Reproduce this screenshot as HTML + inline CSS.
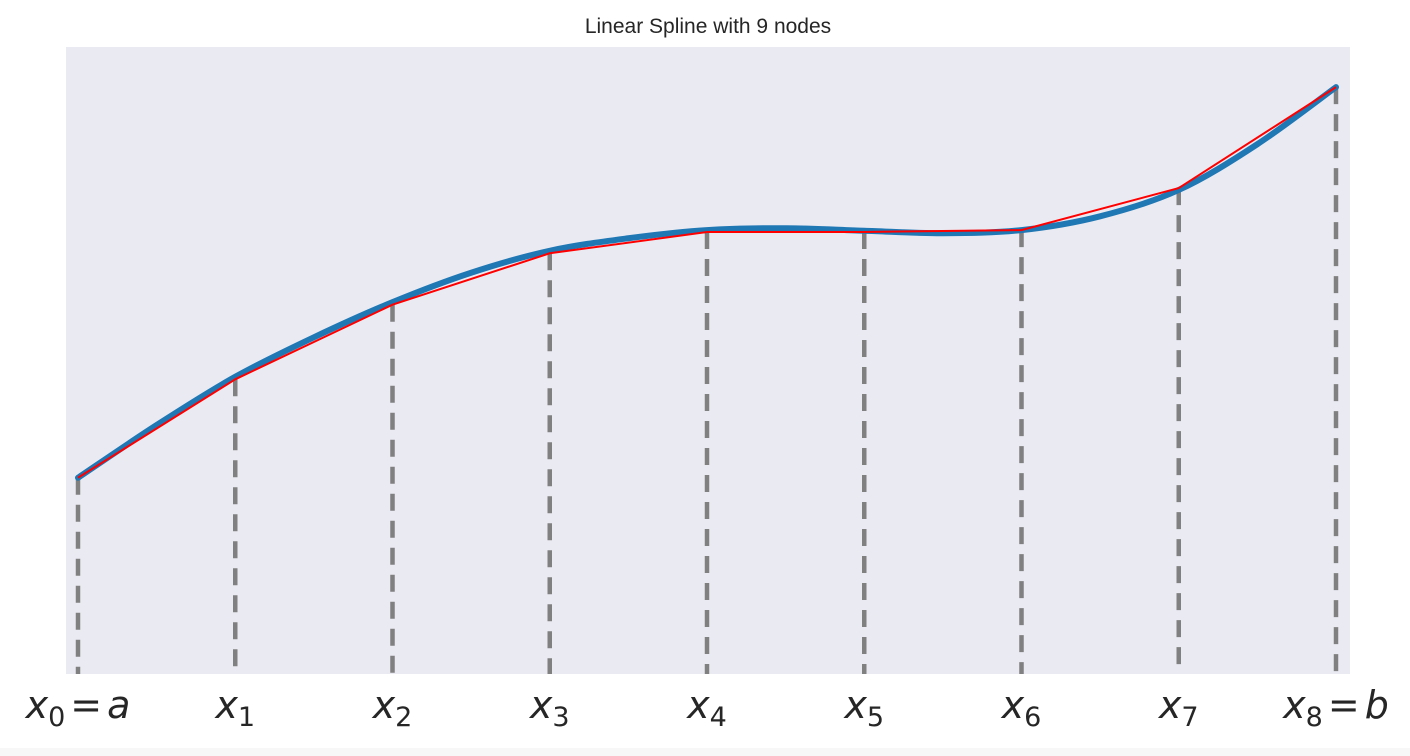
<!DOCTYPE html>
<html><head><meta charset="utf-8"><style>
html,body{margin:0;padding:0;background:#fff;}
svg{display:block;}
</style></head><body>
<svg id="chart" width="1410" height="756" xmlns="http://www.w3.org/2000/svg">
<rect x="0" y="0" width="1410" height="748" fill="#fff"/>
<rect x="0" y="748" width="1410" height="8" fill="#f7f7f7"/>
<rect x="66" y="47" width="1284" height="627" fill="#eaeaf2"/>
<text x="708" y="33" text-anchor="middle" font-family="Liberation Sans, sans-serif" font-size="21" fill="#262626">Linear Spline with 9 nodes</text>
<g id="guides"></g><g id="curve"></g><g id="spline"></g><g id="labels"></g>
</svg>
<script>
const nodeIndex=[0,1,2,3,4,5,6,7,8];
const nodeValues=[3.13,4.70,5.89,6.71,7.05,7.05,7.08,7.75,9.36];
const curveT=[0,0.5,1,1.5,2,2.5,3,3.5,4,4.5,5,5.5,6,6.5,7,7.5,8];
const curveValues=[3.13,3.97,4.74,5.37,5.93,6.40,6.75,6.95,7.08,7.11,7.07,7.03,7.08,7.30,7.72,8.45,9.36];
const tickSubs=["0","1","2","3","4","5","6","7","8"];
const tickSuffix=["= a","","","","","","","","= b"];
const NS="http://www.w3.org/2000/svg";
const xs=t=>78+t*157.25;
const ys=v=>674-v*62.7;
const g=id=>document.getElementById(id);
nodeIndex.forEach((t,i)=>{
  const l=document.createElementNS(NS,'line');
  l.setAttribute('x1',xs(t));l.setAttribute('x2',xs(t));
  l.setAttribute('y1',ys(nodeValues[i]));l.setAttribute('y2',674);
  l.setAttribute('stroke','#808080');l.setAttribute('stroke-width','4.5');l.setAttribute('stroke-dasharray','17,10');
  
  
  g('guides').appendChild(l);
});
const P=curveT.map((t,i)=>[xs(t),ys(curveValues[i])]);
let d='M'+P[0][0]+','+P[0][1];
for(let i=0;i<P.length-1;i++){
  const p0=P[Math.max(0,i-1)],p1=P[i],p2=P[i+1],p3=P[Math.min(P.length-1,i+2)];
  d+=' C'+(p1[0]+(p2[0]-p0[0])/6)+','+(p1[1]+(p2[1]-p0[1])/6)+' '+(p2[0]-(p3[0]-p1[0])/6)+','+(p2[1]-(p3[1]-p1[1])/6)+' '+p2[0]+','+p2[1];
}
const c=document.createElementNS(NS,'path');
c.setAttribute('d',d);c.setAttribute('fill','none');c.setAttribute('stroke','#1f77b4');c.setAttribute('stroke-width','6');c.setAttribute('stroke-linecap','round');


g('curve').appendChild(c);
const s=document.createElementNS(NS,'polyline');
s.setAttribute('points',nodeIndex.map((t,i)=>xs(t)+','+ys(nodeValues[i])).join(' '));
s.setAttribute('fill','none');s.setAttribute('stroke','#ff0000');s.setAttribute('stroke-width','2');


g('spline').appendChild(s);
nodeIndex.forEach((t,i)=>{
  const tx=document.createElementNS(NS,'text');
  tx.setAttribute('x',xs(t));tx.setAttribute('y',718);tx.setAttribute('text-anchor','middle');
  tx.setAttribute('font-family','DejaVu Sans, sans-serif');tx.setAttribute('font-size','38');tx.setAttribute('fill','#262626');
  
  
  let h='<tspan font-style="italic">x</tspan><tspan font-size="27" dy="8">'+tickSubs[i]+'</tspan>';
  if(tickSuffix[i]) h+='<tspan dy="-8" dx="5">=</tspan><tspan font-style="italic" dx="5">'+tickSuffix[i].slice(2)+'</tspan>';
  tx.innerHTML=h;
  g('labels').appendChild(tx);
});
</script>
</body></html>
